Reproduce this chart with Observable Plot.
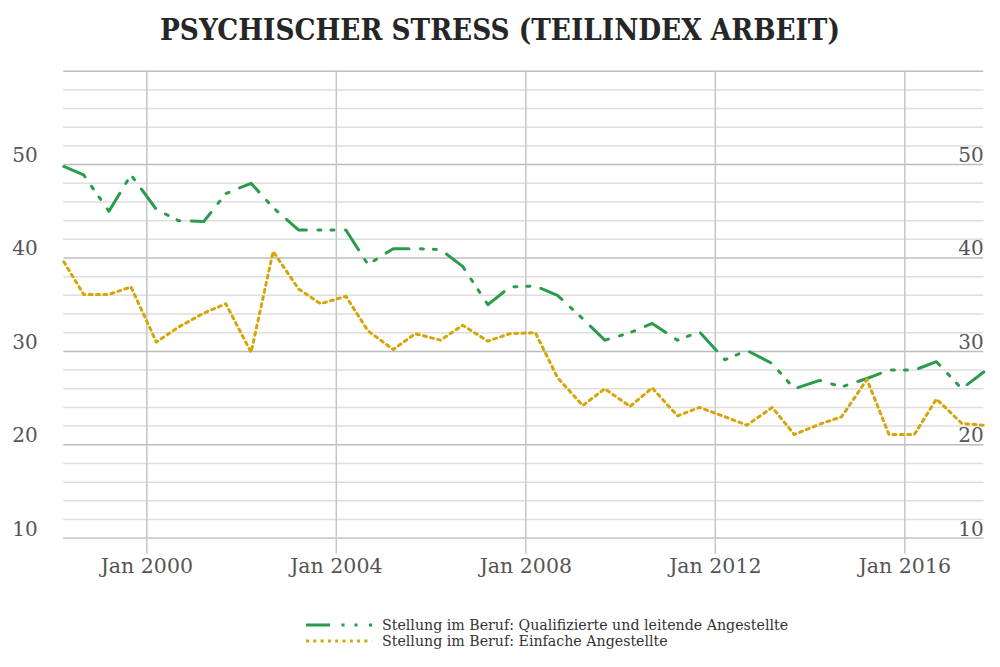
<!DOCTYPE html>
<html><head><meta charset="utf-8">
<script src="https://cdn.jsdelivr.net/npm/d3@7"></script>
<script src="https://cdn.jsdelivr.net/npm/@observablehq/plot@0.6"></script>
<style>
body{margin:0;background:#fff;width:1000px;height:667px;position:relative;overflow:hidden;font-family:"DejaVu Serif",serif;}
#title{position:absolute;left:0;width:1000px;top:14px;line-height:32px;text-align:center;font-family:"DejaVu Serif Condensed","DejaVu Serif",serif;font-stretch:condensed;font-weight:bold;font-size:29.3px;color:#262626;white-space:nowrap}
#chart{position:absolute;left:0;top:60px}
#legend{position:absolute;left:306px;top:617px;font-size:14.2px;color:#333;}
.row{height:16px;line-height:16px;white-space:nowrap;display:flex;align-items:center}
.row svg{margin-right:10px}
</style></head><body>
<div id="title">PSYCHISCHER STRESS (TEILINDEX ARBEIT)</div>
<div id="chart"></div>
<div id="legend"></div>
<script>
// half-yearly survey dates
const dates = [
 "1998-04-01","1998-09-01","1999-03-15","1999-09-01","2000-03-15","2000-09-01",
 "2001-03-15","2001-09-01","2002-03-15","2002-09-01","2003-03-15","2003-09-01",
 "2004-03-15","2004-09-01","2005-03-15","2005-09-01","2006-03-15","2006-09-01",
 "2007-03-15","2007-09-01","2008-03-15","2008-09-01","2009-03-15","2009-09-01",
 "2010-03-15","2010-09-01","2011-03-15","2011-09-01","2012-03-15","2012-09-01",
 "2013-03-15","2013-09-01","2014-03-15","2014-09-01","2015-03-15","2015-09-01",
 "2016-03-15","2016-09-01","2017-03-15","2017-09-01"
];
// Stellung im Beruf: Qualifizierte und leitende Angestellte
const qualifiziert = [
 49.8, 48.9, 45.0, 48.9, 45.2, 44.0, 43.9, 46.9, 48.0, 45.4,
 43.0, 43.0, 43.0, 39.3, 41.0, 41.0, 40.9, 39.1, 35.0, 36.9,
 37.0, 36.0, 33.5, 31.2, 32.0, 33.0, 31.2, 32.1, 29.1, 30.1,
 28.7, 26.0, 26.9, 26.2, 27.1, 28.0, 28.0, 28.9, 26.0, 27.8
];
// Stellung im Beruf: Einfache Angestellte
const einfach = [
 39.6, 36.1, 36.1, 36.9, 31.0, 32.6, 34.1, 35.1, 29.9, 40.7,
 36.7, 35.1, 35.9, 32.2, 30.2, 31.9, 31.2, 32.8, 31.1, 31.9,
 32.0, 27.2, 24.2, 26.0, 24.1, 26.1, 23.1, 24.0, 23.0, 22.1,
 24.0, 21.1, 22.2, 23.0, 27.0, 21.1, 21.1, 24.9, 22.3, 22.1
];
const seriesNames = [
 "Stellung im Beruf: Qualifizierte und leitende Angestellte",
 "Stellung im Beruf: Einfache Angestellte"
];
const seriesColors = ["#2b9c4c", "#d6a50a"];
const seriesDash = ["24,11.5,3,10,3,11.5", "3,4.3"];
const xTickDates = ["2000-01-01","2004-01-01","2008-01-01","2012-01-01","2016-01-01"];
const xTickLabels = ["Jan 2000","Jan 2004","Jan 2008","Jan 2012","Jan 2016"];
const yTickValues = [10, 20, 30, 40, 50];
const majorGrid = [10, 20, 30, 40, 50, 60];
const minorGrid = [12,14,16,18,22,24,26,28,32,34,36,38,42,44,46,48,52,54,56,58];

const greenData = dates.map((d, i) => ({date: new Date(d), value: qualifiziert[i]}));
const yellowData = dates.map((d, i) => ({date: new Date(d), value: einfach[i]}));
const xTicks = xTickDates.map((d, i) => ({date: new Date(d), label: xTickLabels[i]}));

const chart = Plot.plot({
  width: 1000, height: 540,
  marginTop: 10.7, marginBottom: 62.3, marginLeft: 63.3, marginRight: 16.7,
  x: {type: "utc", domain: [new Date(dates[0]), new Date(dates[dates.length - 1])], axis: null},
  y: {domain: [10, 60], axis: null},
  style: {fontFamily: "'DejaVu Serif', serif", background: "white", overflow: "visible"},
  marks: [
    Plot.ruleY(minorGrid, {stroke: "#dedede", strokeWidth: 1.5}),
    Plot.ruleY(majorGrid, {stroke: "#bdbdbd", strokeWidth: 1.5}),
    Plot.ruleX(xTicks, {x: "date", stroke: "#c6c6c6", strokeWidth: 1.5, insetBottom: -16}),
    Plot.ruleY([10], {stroke: "#c5cfdc", strokeWidth: 1.5}),
    Plot.line(greenData, {x: "date", y: "value", stroke: seriesColors[0], strokeWidth: 3, strokeDasharray: seriesDash[0], strokeLinejoin: "round"}),
    Plot.line(yellowData, {x: "date", y: "value", stroke: seriesColors[1], strokeWidth: 3, strokeDasharray: seriesDash[1], strokeLinejoin: "round"}),
    Plot.text(yTickValues, {y: d => d, text: d => String(d), frameAnchor: "left", textAnchor: "end", dx: -26, dy: -9, fontSize: 20, fill: "#555"}),
    Plot.text(yTickValues, {y: d => d, text: d => String(d), frameAnchor: "right", textAnchor: "end", dx: 0, dy: -9, fontSize: 20, fill: "#555"}),
    Plot.text(xTicks, {x: "date", text: "label", frameAnchor: "bottom", dy: 35, fontSize: 20.5, fill: "#555"})
  ]
});
document.getElementById("chart").appendChild(chart);

const legend = document.getElementById("legend");
seriesNames.forEach((name, i) => {
  const row = document.createElement("div");
  row.className = "row";
  row.innerHTML = `<svg width="66" height="16"><line x1="0" y1="8" x2="66" y2="8" stroke="${seriesColors[i]}" stroke-width="3" stroke-dasharray="${seriesDash[i]}"/></svg><span>${name}</span>`;
  legend.appendChild(row);
});
</script>
</body></html>
